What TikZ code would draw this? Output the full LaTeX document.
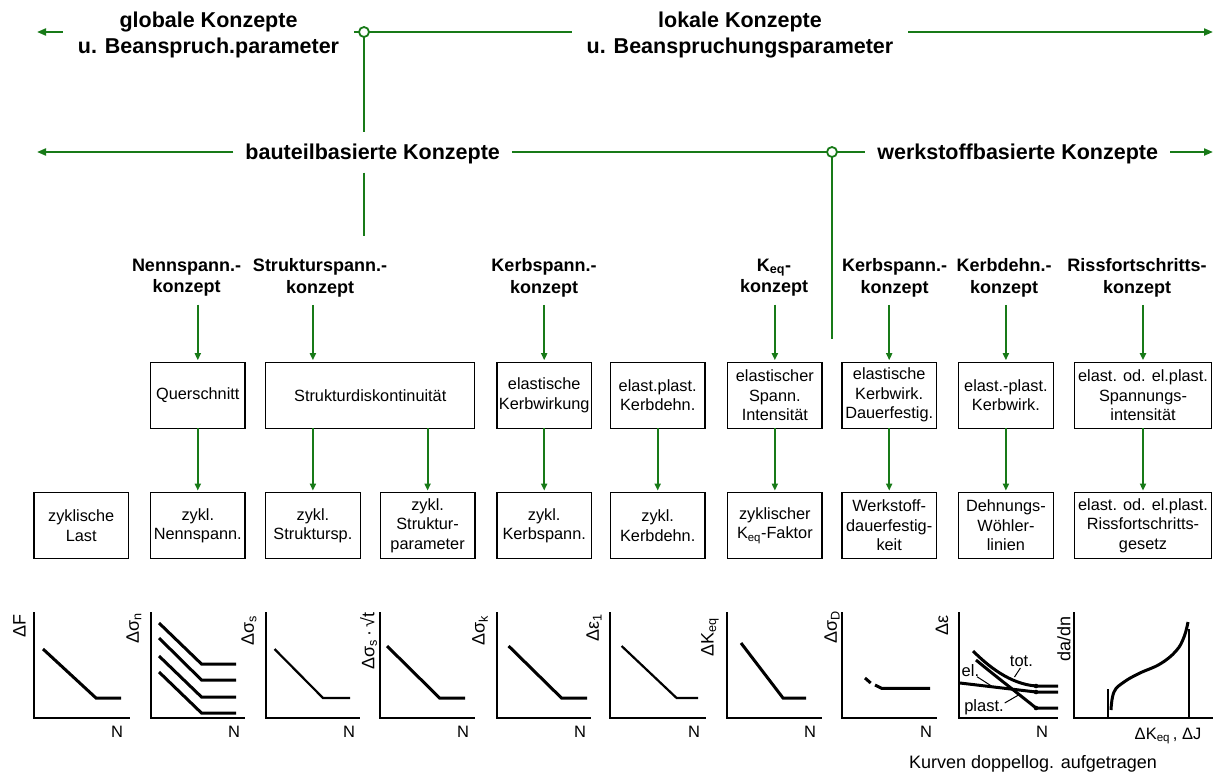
\documentclass[tikz,border=0pt]{standalone}
\usepackage{fontspec}
\setmainfont{Liberation Sans}
\usetikzlibrary{arrows.meta}
\definecolor{gline}{RGB}{24,122,24}
\newcommand{\fBig}{\fontsize{21.5}{26}\selectfont\bfseries}
\newcommand{\fHead}{\fontsize{18}{21.5}\selectfont\bfseries}
\newcommand{\fBox}{\fontsize{16.3}{19.5}\selectfont}
\newcommand{\fLab}{\fontsize{16.5}{19}\selectfont}
\newcommand{\fRot}{\fontsize{18}{20}\selectfont}
\newcommand{\fCap}{\fontsize{18}{21}\selectfont}
\tikzset{
  gl/.style={draw=gline, line width=2pt},
  garr/.style={gl, -{Triangle[length=9pt,width=7pt]}},
  darr/.style={draw=gline, line width=1.9pt, -{Triangle[length=7pt,width=6pt]}, shorten >=2pt},
  circ/.style={circle, draw=gline, fill=white, line width=1.8pt, minimum size=10pt, inner sep=0pt, outer sep=0pt},
  bighead/.style={font=\fBig, align=center, inner xsep=15pt, inner ysep=2pt, outer sep=0pt},
  rowhead/.style={font=\fBig, inner xsep=12pt, inner ysep=12pt, text height=15.5pt, text depth=1.5pt, outer sep=0pt},
  conc/.style={font=\fHead, align=center, inner xsep=2pt, inner ysep=8pt, outer sep=0pt},
  cbox/.style={draw, line width=1.3pt, minimum width=94.5pt, minimum height=66pt, align=center, font=\fBox, inner sep=0pt, outer sep=0pt},
  ax/.style={line width=2.6pt, line join=miter},
  crv/.style={line width=3pt},
  thn/.style={line width=2.2pt},
  ldr/.style={line width=1pt},
  glab/.style={font=\fLab, inner sep=0pt},
  rlab/.style={font=\fRot, inner sep=0pt, rotate=90},
}
\begin{document}
\begin{tikzpicture}[x=1pt,y=-1pt]
\useasboundingbox (0,0) rectangle (1216,774);
% ---------- row 1
\node[circ] (o1) at (364,32) {};
\node[bighead] (glob) at (208.5,35.4) {globale Konzepte\\u. Beanspruch.parameter};
\node[bighead] (lok) at (740,35.4) {lokale Konzepte\\u. Beanspruchungsparameter};
\coordinate (tl) at (37,32);
\coordinate (tr) at (1213,32);
\draw[garr] (glob.west |- o1) -- (tl);
\draw[gl] (glob.east |- o1) -- (o1.west);
\draw[gl] (o1.east) -- (lok.west |- o1);
\draw[garr] (lok.east |- o1) -- (tr);
% ---------- row 2
\node[circ] (o2) at (832,152) {};
\node[rowhead] (bau) at (372.7,152) {bauteilbasierte Konzepte};
\node[rowhead] (werk) at (1017.7,152) {werkstoffbasierte Konzepte};
\coordinate (ml) at (37,152);
\coordinate (mr) at (1213,152);
\draw[garr] (bau.west) -- (ml);
\draw[gl] (bau.east) -- (o2.west);
\draw[gl] (o2.east) -- (werk.west);
\draw[garr] (werk.east) -- (mr);
\draw[gl] (o1.south) -- (bau.north -| o1);
\coordinate (v1) at (364,236);
\draw[gl] (bau.south -| o1) -- (v1);
\coordinate (v2) at (832,339);
\draw[gl] (o2.south) -- (v2);
% ---------- concept headings
\node[conc] (h1) at (186.5,277.7) {Nennspann.-\\konzept};
\node[conc] (h2) at (320,277.7) {Strukturspann.-\\konzept};
\node[conc] (h3) at (544,277.7) {Kerbspann.-\\konzept};
\node[conc] (h4) at (774,277.7) {K\textsubscript{eq}-\\konzept};
\node[conc] (h5) at (894.6,277.7) {Kerbspann.-\\konzept};
\node[conc] (h6) at (1004,277.7) {Kerbdehn.-\\konzept};
\node[conc] (h7) at (1137,277.7) {Rissfortschritts-\\konzept};
% ---------- middle boxes
\node[cbox] (q) at (197.8,395.2) {Querschnitt};
\node[cbox, minimum width=209pt] (sd) at (370.25,395.2) {Strukturdiskontinuität};
\node[cbox] (ek) at (544.2,395.2) {elastische\\Kerbwirkung};
\node[cbox] (ep) at (657.7,395.2) {elast.plast.\\Kerbdehn.};
\node[cbox] (es) at (774.85,395.2) {elastischer\\Spann.\\Intensität};
\node[cbox] (ed) at (889.2,395.2) {elastische\\Kerbwirk.\\Dauerfestig.};
\node[cbox] (epk) at (1005.9,395.2) {elast.-plast.\\Kerbwirk.};
\node[cbox, minimum width=137.5pt] (eo) at (1143,395.2) {elast. od. el.plast.\\Spannungs-\\intensität};
% ---------- bottom boxes
\node[cbox] (zl) at (81.2,525.6) {zyklische\\Last};
\node[cbox] (zn) at (197.8,525.6) {zykl.\\Nennspann.};
\node[cbox] (zs) at (312.9,525.6) {zykl.\\Struktursp.};
\node[cbox] (zp) at (427.6,525.6) {zykl.\\Struktur-\\parameter};
\node[cbox] (zk) at (544.2,525.6) {zykl.\\Kerbspann.};
\node[cbox] (zd) at (657.7,525.6) {zykl.\\Kerbdehn.};
\node[cbox] (zkf) at (774.85,525.6) {zyklischer\\K\textsubscript{eq}-Faktor};
\node[cbox] (wd) at (889.2,525.6) {Werkstoff-\\dauerfestig-\\keit};
\node[cbox] (dw) at (1005.9,525.6) {Dehnungs-\\Wöhler-\\linien};
\node[cbox, minimum width=137.5pt] (rg) at (1143,525.6) {elast. od. el.plast.\\Rissfortschritts-\\gesetz};
% ---------- arrows heading -> box
\draw[darr] (q.north |- h1.south) -- (q.north);
\draw[darr] (zs.north |- h2.south) -- (zs.north |- sd.north);
\draw[darr] (ek.north |- h3.south) -- (ek.north);
\draw[darr] (es.north |- h4.south) -- (es.north);
\draw[darr] (ed.north |- h5.south) -- (ed.north);
\draw[darr] (epk.north |- h6.south) -- (epk.north);
\draw[darr] (eo.north |- h7.south) -- (eo.north);
% ---------- arrows box -> box
\draw[darr] (q.south) -- (zn.north);
\draw[darr] (zs.north |- sd.south) -- (zs.north);
\draw[darr] (zp.north |- sd.south) -- (zp.north);
\draw[darr] (ek.south) -- (zk.north);
\draw[darr] (ep.south) -- (zd.north);
\draw[darr] (es.south) -- (zkf.north);
\draw[darr] (ed.south) -- (wd.north);
\draw[darr] (epk.south) -- (dw.north);
\draw[darr] (eo.south) -- (rg.north);
% ---------- graphs
% G1
\begin{scope}[shift={(34,718)}]
\draw[ax] (0,-106) -- (0,0) -- (96,0);
\draw[crv] (9,-69) -- (62,-20) -- (87,-20);
\end{scope}
% G2
\begin{scope}[shift={(151,718)}]
\draw[ax] (0,-106) -- (0,0) -- (94,0);
\draw[crv] (8,-95) -- (50.5,-54) -- (85,-54);
\draw[crv] (8,-80) -- (50.5,-38) -- (85,-38);
\draw[crv] (8,-62) -- (50.5,-21) -- (85,-21);
\draw[crv] (8,-46) -- (50.5,-5) -- (85,-5);
\end{scope}
% G3
\begin{scope}[shift={(266,718)}]
\draw[ax] (0,-106) -- (0,0) -- (94,0);
\draw[thn] (8.5,-69) -- (57,-20) -- (84,-20);
\end{scope}
% G4
\begin{scope}[shift={(380,718)}]
\draw[ax] (0,-106) -- (0,0) -- (95,0);
\draw[crv] (7,-72) -- (59.6,-20) -- (85,-20);
\end{scope}
% G5
\begin{scope}[shift={(497,718)}]
\draw[ax] (0,-106) -- (0,0) -- (94,0);
\draw[crv] (11.6,-72) -- (64.5,-20) -- (90,-20);
\end{scope}
% G6
\begin{scope}[shift={(610,718)}]
\draw[ax] (0,-106) -- (0,0) -- (96,0);
\draw[thn] (11.6,-72) -- (66.6,-20) -- (88,-20);
\end{scope}
% G7
\begin{scope}[shift={(727,718)}]
\draw[ax] (0,-106) -- (0,0) -- (95,0);
\draw[crv] (14,-75) -- (56,-20) -- (79,-20);
\end{scope}
% G8
\begin{scope}[shift={(842,718)}]
\draw[ax] (0,-106) -- (0,0) -- (95,0);
\draw[crv] (23,-40) -- (28.7,-35);
\draw[crv] (33,-33) -- (39.7,-29.7) -- (88,-29.7);
\end{scope}
% G9
\draw[ax] (959,612) -- (959,718) -- (1058,718);
\draw[crv] (973,651) .. controls (988,666) and (1010,684) .. (1036,686) -- (1058,686);
\draw[crv] (976,660) .. controls (994,675) and (1020,695) .. (1036,708) -- (1058,708);
\draw[crv] (960,683) -- (1036,692) -- (1058,692);
\fill (1036,686) circle (2.3pt) (1036,692) circle (2.3pt) (1036,708) circle (2.3pt);
\node[glab] (ltot) at (1021.4,661) {tot.};
\node[glab] (lel) at (970.4,671) {el.};
\node[glab] (lpl) at (984,707.5) {plast.};
\coordinate (ctot) at (1014.5,677);
\coordinate (cel) at (993,687);
\coordinate (cpl) at (1018.5,695);
\draw[ldr] (1020.4,668) -- (ctot);
\draw[ldr] (977,676.7) -- (cel);
\draw[ldr] (1004.7,703) -- (cpl);
% G10
\draw[ax] (1074,612) -- (1074,718) -- (1213,718);
\draw[line width=2pt] (1108,689) -- (1108,718);
\draw[line width=2pt] (1189,629) -- (1189,718);
\draw[crv] plot[smooth, tension=0.7] coordinates {(1111,710) (1114,692) (1124,682) (1140,673) (1160,664) (1176,651) (1184,637) (1188,622)};
% ---------- graph labels
\node[rlab] (y1) at (19.5,626) {ΔF};
\node[rlab] (y2) at (134,628) {Δσ\textsubscript{n}};
\node[rlab] (y3) at (249,631) {Δσ\textsubscript{s}};
\node[rlab] (y4) at (368.5,641) {Δσ\textsubscript{s}\,·\,√t};
\node[rlab] (y5) at (480,631) {Δσ\textsubscript{k}};
\node[rlab] (y6) at (594,628) {Δε\textsubscript{1}};
\node[rlab] (y7) at (710,637) {ΔK\textsubscript{eq}};
\node[rlab] (y8) at (832,627) {Δσ\textsubscript{D}};
\node[rlab] (y9) at (942,625) {Δε};
\node[rlab] (y10) at (1064,639) {da/dn};
\node[glab] (n1) at (117,731.7) {N};
\node[glab] (n2) at (234,731.7) {N};
\node[glab] (n3) at (349,731.7) {N};
\node[glab] (n4) at (463,731.7) {N};
\node[glab] (n5) at (580,731.7) {N};
\node[glab] (n6) at (694,731.7) {N};
\node[glab] (n7) at (810,731.7) {N};
\node[glab] (n8) at (926,731.7) {N};
\node[glab] (n9) at (1042,731.7) {N};
\node[glab] (xk) at (1168,736) {ΔK\textsubscript{eq}\,, ΔJ};
\node[font=\fCap, inner sep=0pt] (cap) at (1033,764) {Kurven doppellog. aufgetragen};
\end{tikzpicture}
\end{document}
